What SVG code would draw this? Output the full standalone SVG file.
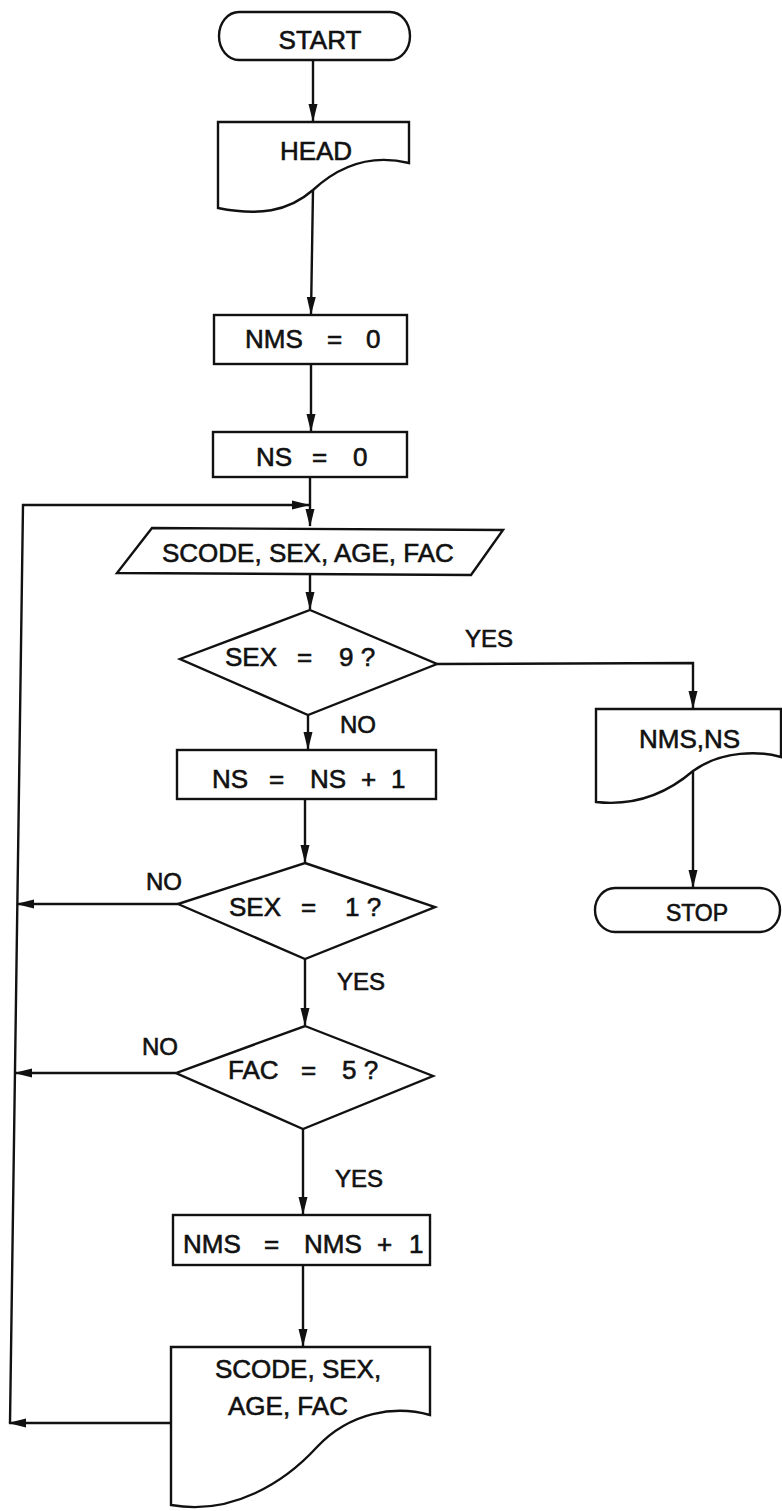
<svg xmlns="http://www.w3.org/2000/svg" width="782" height="1511" viewBox="0 0 782 1511">
<defs>
<style>
.s{fill:#fff;stroke:#111;stroke-width:2.4;stroke-linejoin:miter}
.c{fill:none;stroke:#111;stroke-width:2.4}
.t{font-family:"Liberation Sans",Arial,sans-serif;font-size:26px;fill:#111;stroke:#111;stroke-width:0.6}
.l{font-family:"Liberation Sans",Arial,sans-serif;font-size:24px;fill:#111;stroke:#111;stroke-width:0.6}
</style>
<marker id="ah" viewBox="0 0 18 11" markerWidth="18" markerHeight="11" refX="17" refY="5.5" orient="auto" markerUnits="userSpaceOnUse">
<path d="M0,1 L18,5.5 L0,10 Z" fill="#111"/>
</marker>
</defs>
<rect width="782" height="1511" fill="#fff"/>
<g id="connectors">
<path class="c" d="M313,60 V121" marker-end="url(#ah)"/>
<path class="c" d="M313,190 L311,314" marker-end="url(#ah)"/>
<path class="c" d="M311,364 V431" marker-end="url(#ah)"/>
<path class="c" d="M310,477 V526" marker-end="url(#ah)"/>
<path class="c" d="M171,1423 H9" marker-end="url(#ah)"/>
<path class="c" d="M10,1423 L23,505 H309" marker-end="url(#ah)"/>
<path class="c" d="M178,904 H17" marker-end="url(#ah)"/>
<path class="c" d="M176,1073 H15" marker-end="url(#ah)"/>
<path class="c" d="M310,574 V609" marker-end="url(#ah)"/>
<path class="c" d="M308,715 V749" marker-end="url(#ah)"/>
<path class="c" d="M437,664 L693,663 V708" marker-end="url(#ah)"/>
<path class="c" d="M305,799 V862" marker-end="url(#ah)"/>
<path class="c" d="M305,959 V1025" marker-end="url(#ah)"/>
<path class="c" d="M303,1129 V1214" marker-end="url(#ah)"/>
<path class="c" d="M303,1265 V1346" marker-end="url(#ah)"/>
<path class="c" d="M693,771 V887" marker-end="url(#ah)"/>
</g>
<g id="start">
<rect class="s" x="219" y="12" width="191" height="48" rx="20" ry="24"/>
<text class="t" x="320" y="49" text-anchor="middle">START</text>
</g>
<g id="head">
<path class="s" d="M218,122 H409 V163 C372,154 340,165 313,190 C288,212 258,216 218,208 Z"/>
<text class="t" x="316" y="160" text-anchor="middle">HEAD</text>
</g>
<g id="nms0">
<rect class="s" x="214" y="315" width="193" height="49"/>
<text class="t" y="348"><tspan x="245">NMS</tspan> <tspan x="327">=</tspan> <tspan x="366">0</tspan></text>
</g>
<g id="ns0">
<rect class="s" x="213" y="432" width="194" height="45"/>
<text class="t" y="466"><tspan x="256">NS</tspan> <tspan x="312">=</tspan> <tspan x="353">0</tspan></text>
</g>
<g id="input">
<path class="s" d="M152,528 L503,530 L471,575 L117,573 Z"/>
<text class="t" x="162" y="562">SCODE, SEX, AGE, FAC</text>
</g>
<g id="dec9">
<path class="s" d="M310,610 L437,664 L308,715 L180,659 Z"/>
<text class="t" y="666"><tspan x="225">SEX</tspan> <tspan x="297">=</tspan> <tspan x="339">9 ?</tspan></text>
</g>
<g id="nsinc">
<rect class="s" x="177" y="750" width="259" height="49"/>
<text class="t" y="788"><tspan x="212">NS</tspan> <tspan x="269">=</tspan> <tspan x="310">NS</tspan> <tspan x="361">+</tspan> <tspan x="391">1</tspan></text>
</g>
<g id="dec1">
<path class="s" d="M305,863 L435,907 L305,959 L178,904 Z"/>
<text class="t" y="916"><tspan x="229">SEX</tspan> <tspan x="301">=</tspan> <tspan x="345">1 ?</tspan></text>
</g>
<g id="dec5">
<path class="s" d="M305,1026 L433,1076 L303,1129 L176,1073 Z"/>
<text class="t" y="1079"><tspan x="228">FAC</tspan> <tspan x="301">=</tspan> <tspan x="342">5 ?</tspan></text>
</g>
<g id="nmsinc">
<rect class="s" x="173" y="1215" width="257" height="50"/>
<text class="t" y="1253"><tspan x="183">NMS</tspan> <tspan x="264">=</tspan> <tspan x="304">NMS</tspan> <tspan x="377">+</tspan> <tspan x="409">1</tspan></text>
</g>
<g id="outrec">
<path class="s" d="M171,1347 H430 V1415 C395,1405 350,1412 317,1447 C285,1482 232,1516 171,1505 Z"/>
<text class="t" x="215" y="1378">SCODE, SEX,</text>
<text class="t" x="228" y="1415">AGE, FAC</text>
</g>
<g id="outtot">
<path class="s" d="M596,709 H781 V757 C760,751 722,750 693,771 C665,795 632,806 596,802 Z"/>
<text class="t" x="639" y="748">NMS,NS</text>
</g>
<g id="stop">
<rect class="s" x="595" y="888" width="185" height="44" rx="20" ry="22"/>
<text class="t" x="697" y="921" text-anchor="middle" style="font-size:23px">STOP</text>
</g>
<g id="labels">
<text class="l" x="465" y="647">YES</text>
<text class="l" x="340" y="733">NO</text>
<text class="l" x="146" y="890">NO</text>
<text class="l" x="337" y="990">YES</text>
<text class="l" x="142" y="1055">NO</text>
<text class="l" x="335" y="1187">YES</text>
</g>
</svg>
